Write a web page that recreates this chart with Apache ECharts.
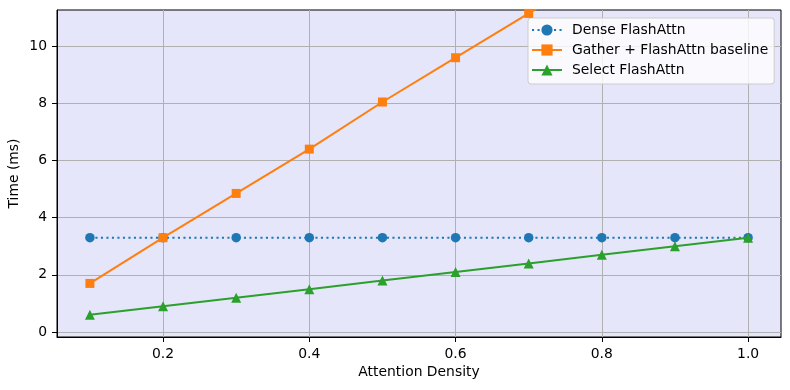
<!DOCTYPE html>
<html>
<head>
<meta charset="utf-8">
<script src="https://cdn.jsdelivr.net/npm/echarts@6/dist/echarts.min.js"></script>
<style>
  html, body { margin: 0; padding: 0; background: #fff; }
  #chart { width: 790px; height: 390px; }
</style>
</head>
<body>
<div id="chart"></div>
<script>
const density = [0.1, 0.2, 0.3, 0.4, 0.5, 0.6, 0.7, 0.8, 0.9, 1.0]
const denseFlash = [3.3, 3.3, 3.3, 3.3, 3.3, 3.3, 3.3, 3.3, 3.3, 3.3]
const gatherFlash = [1.7, 3.3, 4.85, 6.4, 8.05, 9.6, 11.15, 12.7, 14.3, 15.85]
const selectFlash = [0.6, 0.9, 1.2, 1.5, 1.8, 2.1, 2.4, 2.7, 3.0, 3.3]
const xTicks = [0.2, 0.4, 0.6, 0.8, 1.0]
const yTicks = [0, 2, 4, 6, 8, 10]

const font = "DejaVu Sans"
const fs = 13.9

const pairs = ys => density.map((x, i) => [x, ys[i]])

const chart = echarts.init(document.getElementById("chart"))

chart.setOption({
    animation: false,
    textStyle: {fontFamily: font, color: "#000"},
    grid: {
        left: 57, right: 9, top: 10, bottom: 53,
        outerBoundsMode: "none", containLabel: false,
        show: true, backgroundColor: "#e6e6fa",
        borderColor: "#000", borderWidth: 1
    },
    legend: {
        orient: "vertical", left: 528, top: 18,
        padding: [5, 6, 7, 3],
        itemWidth: 30, itemHeight: 14, itemGap: 6,
        backgroundColor: "rgba(255,255,255,0.8)",
        borderColor: "#cccccc", borderWidth: 1, borderRadius: 3,
        textStyle: {fontFamily: font, fontSize: fs, color: "#000", padding: [0, 0, 0, 5]},
        data: ["Dense FlashAttn", "Gather + FlashAttn baseline", "Select FlashAttn"]
    },
    xAxis: {
        type: "value", min: 0.055, max: 1.045,
        name: "Attention Density", nameLocation: "middle", nameGap: 28,
        nameMoveOverlap: false,
        nameTextStyle: {fontFamily: font, fontSize: fs, color: "#000"},
        axisLine: {show: true, onZero: false, lineStyle: {color: "#000", width: 1}},
        axisTick: {show: true, inside: false, length: 5, customValues: xTicks, lineStyle: {color: "#000"}},
        axisLabel: {margin: 10, fontFamily: font, fontSize: fs, color: "#000",
            customValues: xTicks, formatter: v => v.toFixed(1)},
        splitLine: {show: true, lineStyle: {color: "#b0b0b0", width: 1}}
    },
    yAxis: {
        type: "value", min: -0.175, max: 11.27,
        name: "Time (ms)", nameLocation: "middle", nameGap: 36, nameRotate: 90,
        nameMoveOverlap: false,
        nameTextStyle: {fontFamily: font, fontSize: fs, color: "#000"},
        axisLine: {show: true, onZero: false, lineStyle: {color: "#000", width: 1}},
        axisTick: {show: true, inside: false, length: 5, customValues: yTicks, lineStyle: {color: "#000"}},
        axisLabel: {margin: 10, fontFamily: font, fontSize: fs, color: "#000",
            customValues: yTicks, formatter: v => String(Math.round(v))},
        splitLine: {show: true, lineStyle: {color: "#b0b0b0", width: 1}}
    },
    series: [
        {
            name: "Dense FlashAttn", type: "line", data: pairs(denseFlash),
            symbol: "circle", symbolSize: 9.5, showAllSymbol: true,
            color: "#1f77b4",
            lineStyle: {width: 2, type: [2.1, 3.4]},
            itemStyle: {color: "#1f77b4"}, z: 3
        },
        {
            name: "Gather + FlashAttn baseline", type: "line", data: pairs(gatherFlash),
            symbol: "rect", symbolSize: 9, showAllSymbol: true,
            color: "#ff7f0e",
            lineStyle: {width: 2},
            itemStyle: {color: "#ff7f0e"}, z: 4
        },
        {
            name: "Select FlashAttn", type: "line", data: pairs(selectFlash),
            symbol: "triangle", symbolSize: 10, showAllSymbol: true,
            color: "#2ca02c",
            lineStyle: {width: 2},
            itemStyle: {color: "#2ca02c"}, z: 5
        }
    ]
})
</script>
</body>
</html>
